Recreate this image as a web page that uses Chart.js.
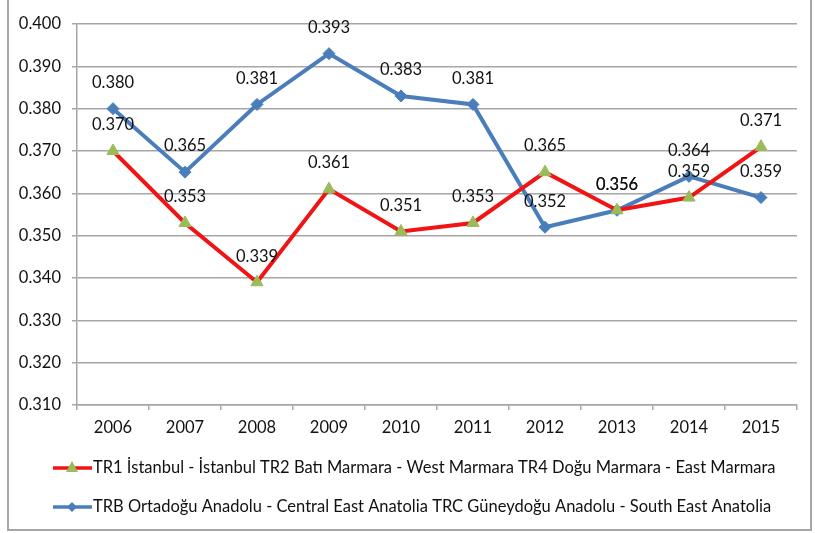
<!DOCTYPE html>
<html>
<head>
<meta charset="utf-8">
<script src="https://cdn.jsdelivr.net/npm/chart.js@4.4.1/dist/chart.umd.min.js"></script>
<style>
    body { margin: 0; background: #fff; }
    .wrap { position: relative; width: 815px; height: 533px; overflow: hidden; }
    .frame { position: absolute; left: 7px; top: -2px; width: 801px; height: 529px; border: 2px solid #a6a6a6; }
    canvas { position: absolute; left: 0; top: 0; }
</style>
</head>
<body>
<div class="wrap">
    <div class="frame"></div>
    <canvas id="chart" width="815" height="533"></canvas>
</div>
<script>
// Data
const years = ['2006', '2007', '2008', '2009', '2010', '2011', '2012', '2013', '2014', '2015'];
const westRegions = [0.370, 0.353, 0.339, 0.361, 0.351, 0.353, 0.365, 0.356, 0.359, 0.371];
const eastRegions = [0.380, 0.365, 0.381, 0.393, 0.383, 0.381, 0.352, 0.356, 0.364, 0.359];
const westLabel = 'TR1 İstanbul - İstanbul TR2 Batı Marmara - West Marmara TR4 Doğu Marmara - East Marmara';
const eastLabel = 'TRB Ortadoğu Anadolu - Central East Anatolia TRC Güneydoğu Anadolu - South East Anatolia';
const yMin = 0.31, yMax = 0.40, yStep = 0.01;

const FONT = 'Lato, "Open Sans", sans-serif';
const SIZE = 16.5;

// Value labels above each point
const valueLabels = {
    id: 'valueLabels',
    afterDatasetsDraw(chart) {
        const ctx = chart.ctx;
        ctx.save();
        ctx.font = SIZE + 'px ' + FONT;
        ctx.fillStyle = '#111';
        ctx.textAlign = 'center';
        ctx.textBaseline = 'middle';
        chart.data.datasets.forEach((ds, i) => {
            const meta = chart.getDatasetMeta(i);
            meta.data.forEach((pt, j) => {
                ctx.fillText(ds.data[j].toFixed(3), pt.x, pt.y - 26);
            });
        });
        ctx.restore();
    }
};

// Legend drawn in two rows, line + marker like the original
const rowLegend = {
    id: 'rowLegend',
    afterDraw(chart) {
        const ctx = chart.ctx;
        const rows = [468, 507];
        ctx.save();
        chart.data.datasets.forEach((ds, i) => {
            const y = rows[i];
            ctx.strokeStyle = ds.borderColor;
            ctx.lineWidth = 3.5;
            ctx.beginPath();
            ctx.moveTo(53, y);
            ctx.lineTo(92, y);
            ctx.stroke();
            ctx.fillStyle = ds.pointBackgroundColor;
            ctx.beginPath();
            if (ds.pointStyle === 'triangle') {
                ctx.moveTo(72, y - 7);
                ctx.lineTo(78, y + 4);
                ctx.lineTo(66, y + 4);
            } else {
                ctx.moveTo(72, y - 5);
                ctx.lineTo(77, y);
                ctx.lineTo(72, y + 5);
                ctx.lineTo(67, y);
            }
            ctx.closePath();
            ctx.fill();
            ctx.font = SIZE + 'px ' + FONT;
            ctx.fillStyle = '#111';
            ctx.textBaseline = 'middle';
            ctx.fillText(ds.label, 93, y);
        });
        ctx.restore();
    }
};

new Chart(document.getElementById('chart').getContext('2d'), {
    type: 'line',
    data: {
        labels: years,
        datasets: [{
            label: westLabel,
            data: westRegions,
            borderColor: '#f01414',
            borderWidth: 4,
            pointStyle: 'triangle',
            pointRadius: 7,
            pointBackgroundColor: '#9bbb59',
            pointBorderColor: '#9bbb59',
            pointBorderWidth: 1,
            tension: 0
        }, {
            label: eastLabel,
            data: eastRegions,
            borderColor: '#4a7ebb',
            borderWidth: 4,
            pointStyle: 'rectRot',
            pointRadius: 6,
            pointBackgroundColor: '#4a7ebb',
            pointBorderColor: '#4a7ebb',
            pointBorderWidth: 1,
            tension: 0
        }]
    },
    options: {
        responsive: false,
        animation: false,
        layout: { padding: { top: 24, right: 18, left: 0, bottom: 0 } },
        plugins: {
            legend: { display: false },
            tooltip: { enabled: false }
        },
        scales: {
            x: {
                offset: true,
                grid: {
                    offset: true,
                    drawOnChartArea: false,
                    drawTicks: true,
                    tickLength: 5,
                    color: '#a6a6a6',
                    lineWidth: 1.5
                },
                border: { color: '#a6a6a6', width: 1.5 },
                ticks: {
                    color: '#111',
                    font: { family: FONT, size: SIZE },
                    padding: 8,
                    maxRotation: 0
                },
                afterFit(scale) { scale.height = 128; }
            },
            y: {
                min: yMin,
                max: yMax,
                grid: {
                    color: '#a6a6a6',
                    lineWidth: 1.5,
                    tickLength: 5
                },
                border: { color: '#a6a6a6', width: 1.5 },
                ticks: {
                    stepSize: yStep,
                    color: '#111',
                    font: { family: FONT, size: SIZE },
                    padding: 11,
                    callback: v => v.toFixed(3)
                },
                afterFit(scale) { scale.width = 77; }
            }
        }
    },
    plugins: [valueLabels, rowLegend]
});
</script>
</body>
</html>
